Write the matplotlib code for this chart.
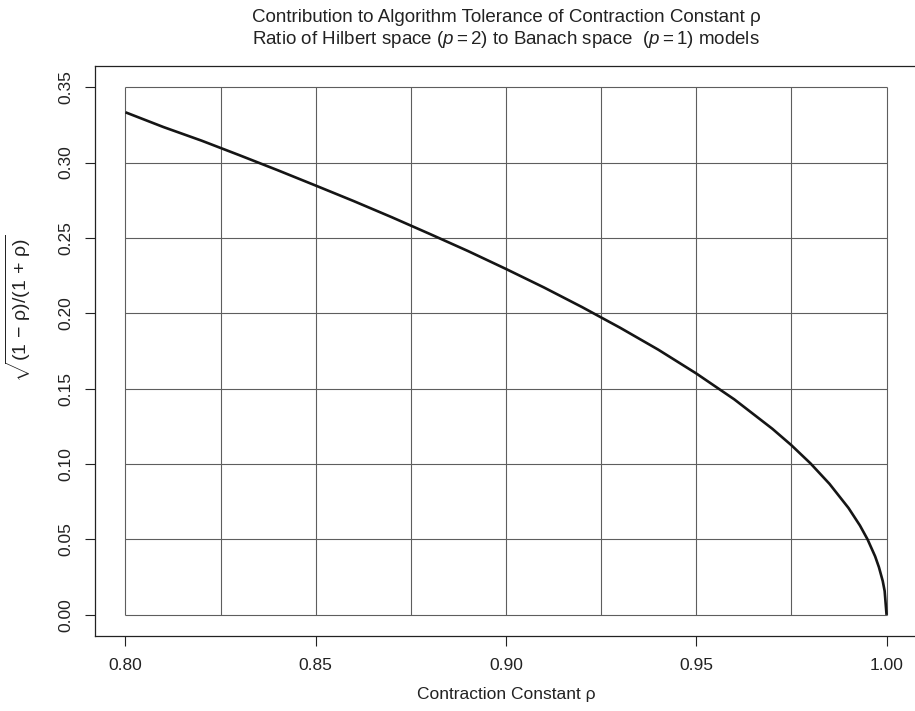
import matplotlib
matplotlib.use("Agg")
import matplotlib.pyplot as plt
import numpy as np

# curve values
rho = [0.800, 0.810, 0.820, 0.830, 0.840, 0.850, 0.860, 0.870, 0.880, 0.890,
       0.900, 0.910, 0.920, 0.930, 0.940, 0.950, 0.960, 0.970, 0.975, 0.980,
       0.985, 0.990, 0.993, 0.995, 0.997, 0.998, 0.999, 0.9995, 1.000]
ratio = [0.3333, 0.3235, 0.3145, 0.3048, 0.2949, 0.2847, 0.2744, 0.2637, 0.2526, 0.2413,
         0.2294, 0.2171, 0.2041, 0.1904, 0.1759, 0.1601, 0.1429, 0.1234, 0.1125, 0.1005,
         0.0869, 0.0709, 0.0593, 0.0501, 0.0388, 0.0316, 0.0224, 0.0158, 0.0]

x_ticks = [0.80, 0.85, 0.90, 0.95, 1.00]
y_ticks = [0.00, 0.05, 0.10, 0.15, 0.20, 0.25, 0.30, 0.35]
x_grid = [0.800, 0.825, 0.850, 0.875, 0.900, 0.925, 0.950, 0.975, 1.000]

title1 = "Contribution to Algorithm Tolerance of Contraction Constant \u03c1"
title2 = r"Ratio of Hilbert space ($p = 2$) to Banach space  ($p = 1$) models"

plt.rcParams['font.family'] = ['Liberation Sans', 'DejaVu Sans']
plt.rcParams['mathtext.fontset'] = 'custom'
plt.rcParams['mathtext.rm'] = 'Liberation Sans'
plt.rcParams['mathtext.it'] = 'Liberation Sans:italic'
plt.rcParams['mathtext.sf'] = 'Liberation Sans'

W, H = 915, 711
fig = plt.figure(figsize=(W / 100, H / 100), dpi=100)
ax = fig.add_axes([95 / W, 1 - 636 / H, (917 - 95) / W, (636 - 66) / H])

ax.set_xlim(0.792, 1.008)
ax.set_ylim(-0.014, 0.364)

grid_col = "#5e5e5e"
ax.vlines(x_grid, 0, 0.35, color=grid_col, lw=0.8, zorder=1)
ax.hlines(y_ticks, 0.8, 1.0, color=grid_col, lw=0.8, zorder=1)

ax.plot(rho, ratio, color="#151515", lw=1.9, zorder=3, solid_capstyle='butt')

ax.set_xticks(x_ticks)
ax.set_xticklabels(["%.2f" % v for v in x_ticks])
ax.set_yticks(y_ticks)
ax.set_yticklabels(["%.2f" % v for v in y_ticks], rotation=90, va='center')
ax.tick_params(axis='both', direction='out', length=7.5, width=0.8,
               labelsize=12.5, color='#222222', labelcolor='#222222')
ax.tick_params(axis='x', pad=8)
ax.tick_params(axis='y', pad=8)
for s in ax.spines.values():
    s.set_linewidth(0.9)
    s.set_color('#222222')

fig.text(506 / W, 1 - 17 / H, title1, ha='center', va='center', fontsize=13.5,
         color='#222222')
fig.text(506 / W, 1 - 40 / H, title2, ha='center', va='center', fontsize=13.5,
         color='#222222')

fig.text(506 / W, 1 - 695 / H, "Contraction Constant \u03c1", ha='center', va='center',
         fontsize=12.5, color='#222222')
fig.text(18 / W, 1 - 308 / H, r"$\sqrt{(1\,-\,\mathrm{\rho})/(1\,+\,\mathrm{\rho})}$", ha='center',
         va='center', rotation=90, fontsize=14, color='#222222')

fig.savefig("out.png", dpi=100)
